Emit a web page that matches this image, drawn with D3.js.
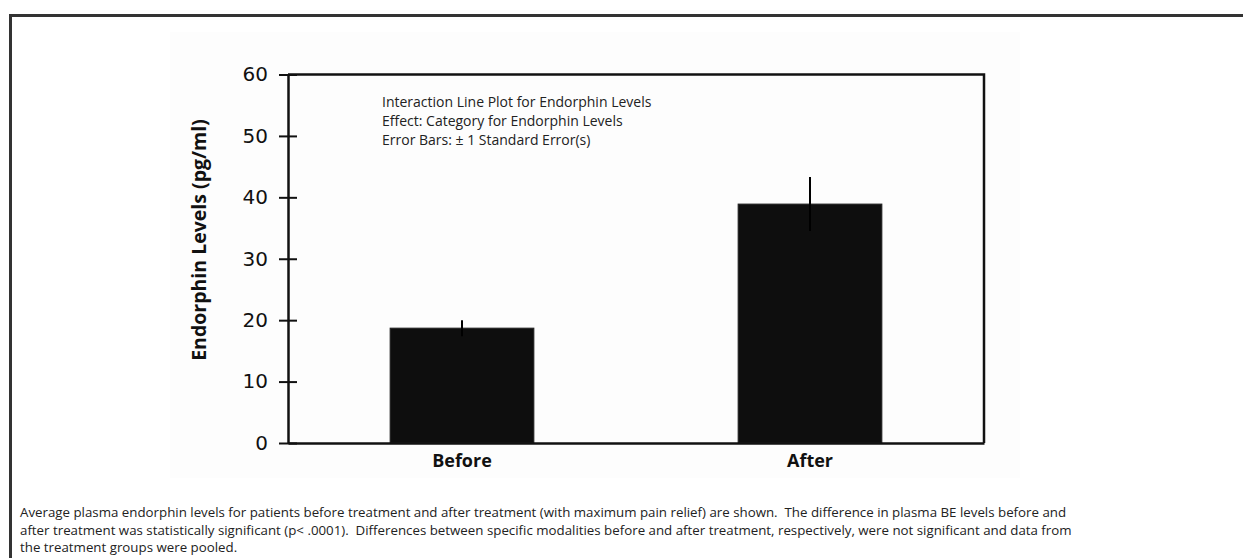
<!DOCTYPE html>
<html>
<head>
<meta charset="utf-8">
<script src="https://cdn.jsdelivr.net/npm/d3@7"></script>
<style>
  body { margin: 0; background: #fff; }
  svg { display: block; }
  text { white-space: pre; }
</style>
</head>
<body>
<div class="chart"></div>
<script>
const categories = ['Before', 'After'];
const means = [18.7, 38.9];
const stdErrors = [1.3, 4.4];
const yTicks = [0, 10, 20, 30, 40, 50, 60];
const noteLines = [
  'Interaction Line Plot for Endorphin Levels',
  'Effect: Category for Endorphin Levels',
  'Error Bars: ± 1 Standard Error(s)',
];
const captionLines = [
  'Average plasma endorphin levels for patients before treatment and after treatment (with maximum pain relief) are shown.  The difference in plasma BE levels before and',
  'after treatment was statistically significant (p< .0001).  Differences between specific modalities before and after treatment, respectively, were not significant and data from',
  'the treatment groups were pooled.',
];

function draw() {
  const width = 1243,
    height = 558;
  const plot = { left: 288, right: 984, top: 74.5, bottom: 443 };

  const svg = d3
    .select('.chart')
    .append('svg')
    .attr('width', width)
    .attr('height', height);

  // outer frame (left + top only, runs off the page)
  svg
    .append('path')
    .attr('d', 'M10.5,' + height + 'V15.5H' + width)
    .attr('fill', 'none')
    .attr('stroke', '#333')
    .attr('stroke-width', 3);

  // faint backdrop of the pasted chart image
  svg
    .append('rect')
    .attr('x', 170)
    .attr('y', 32)
    .attr('width', 850)
    .attr('height', 446)
    .attr('fill', '#fdfdfd');

  const x = d3
    .scaleBand()
    .domain(categories)
    .range([plot.left, plot.right])
    .paddingInner(0.587)
    .paddingOuter(0.2935);

  const y = d3
    .scaleLinear()
    .domain([0, 60])
    .range([plot.bottom, plot.top]);

  const data = categories.map((c, i) => ({
    cat: c,
    mean: means[i],
    se: stdErrors[i],
  }));

  // bars
  svg
    .selectAll('.bar')
    .data(data)
    .join('rect')
    .attr('class', 'bar')
    .attr('x', (d) => x(d.cat))
    .attr('y', (d) => y(d.mean))
    .attr('width', x.bandwidth())
    .attr('height', (d) => y(0) - y(d.mean))
    .attr('fill', '#0e0e0e')
    .attr('stroke', '#222')
    .attr('stroke-width', 1);

  // error bars
  svg
    .selectAll('.err')
    .data(data)
    .join('line')
    .attr('class', 'err')
    .attr('x1', (d) => x(d.cat) + x.bandwidth() / 2)
    .attr('x2', (d) => x(d.cat) + x.bandwidth() / 2)
    .attr('y1', (d) => y(d.mean - d.se))
    .attr('y2', (d) => y(d.mean + d.se))
    .attr('stroke', '#000')
    .attr('stroke-width', 2);

  // top and right frame of the plot
  svg
    .append('path')
    .attr(
      'd',
      'M' + plot.left + ',' + plot.top + 'H' + plot.right + 'V' + plot.bottom
    )
    .attr('fill', 'none')
    .attr('stroke', '#111')
    .attr('stroke-width', 2.5);

  // x axis (line only, category labels below)
  const xAxis = svg
    .append('g')
    .attr('transform', 'translate(0,' + plot.bottom + ')')
    .call(d3.axisBottom(x).tickSize(0).tickPadding(11));
  xAxis.select('.domain').attr('stroke', '#111').attr('stroke-width', 2.5);
  xAxis
    .selectAll('text')
    .attr('fill', '#111')
    .style('font-family', '"Open Sans", sans-serif')
    .style('font-size', '18px')
    .style('font-weight', 'bold');

  // y axis, ticks cross the axis line
  const yAxis = svg
    .append('g')
    .attr('transform', 'translate(' + plot.left + ',0)')
    .call(
      d3.axisLeft(y).tickValues(yTicks).tickSize(9).tickSizeOuter(0).tickPadding(11)
    );
  yAxis.select('.domain').attr('stroke', '#111').attr('stroke-width', 2.5);
  yAxis
    .selectAll('.tick line')
    .attr('x1', 9)
    .attr('stroke', '#111')
    .attr('stroke-width', 2);
  yAxis
    .selectAll('text')
    .attr('fill', '#111')
    .style('font-family', '"DejaVu Sans", sans-serif')
    .style('font-size', '20px');

  svg
    .append('text')
    .attr('transform', 'translate(206,240) rotate(-90)')
    .attr('text-anchor', 'middle')
    .attr('fill', '#111')
    .style('font-family', '"Open Sans", sans-serif')
    .style('font-size', '19.5px')
    .style('font-weight', 'bold')
    .text('Endorphin Levels (pg/ml)');

  // note inside plot
  svg
    .append('g')
    .selectAll('text')
    .data(noteLines)
    .join('text')
    .attr('x', 382)
    .attr('y', (d, i) => 107 + i * 19)
    .attr('fill', '#222')
    .style('font-family', '"Open Sans", sans-serif')
    .style('font-size', '14px')
    .text((d) => d);

  // caption
  svg
    .append('g')
    .selectAll('text')
    .data(captionLines)
    .join('text')
    .attr('x', 20)
    .attr('y', (d, i) => 517 + i * 17.5)
    .attr('fill', '#222')
    .style('font-family', '"Open Sans", sans-serif')
    .style('font-size', '13.3px')
    .text((d) => d);
}

draw();
</script>
</body>
</html>
